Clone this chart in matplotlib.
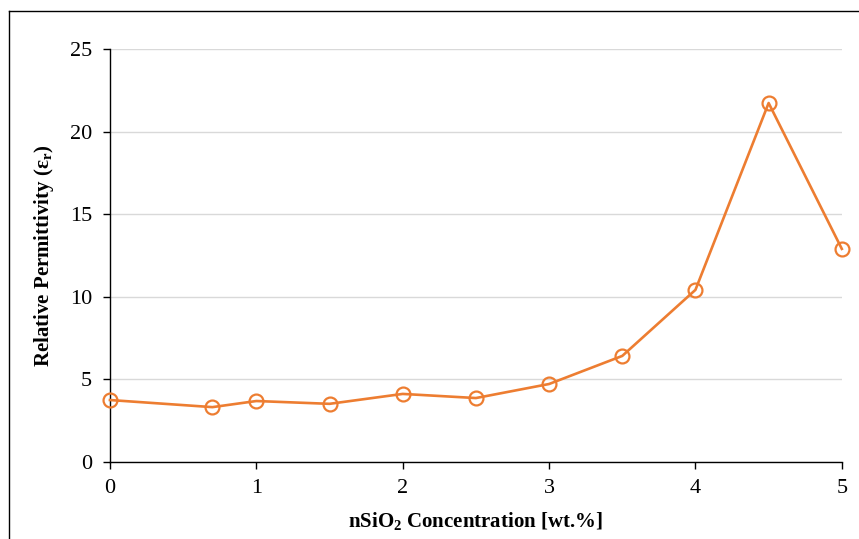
import matplotlib
matplotlib.use("Agg")
import matplotlib.pyplot as plt
from matplotlib.lines import Line2D

# data
concentration = [0, 0.7, 1, 1.5, 2, 2.5, 3, 3.5, 4, 4.5, 5]
permittivity = [3.75, 3.32, 3.69, 3.52, 4.12, 3.87, 4.72, 6.42, 10.42, 21.73, 12.9]
x_ticks = [0, 1, 2, 3, 4, 5]
y_ticks = [0, 5, 10, 15, 20, 25]

plt.rcParams["font.family"] = ["Liberation Serif", "DejaVu Serif"]
plt.rcParams["mathtext.fontset"] = "custom"
plt.rcParams["mathtext.rm"] = "Liberation Serif"
plt.rcParams["mathtext.bf"] = "Liberation Serif:bold"
plt.rcParams["mathtext.default"] = "bf"

orange = "#ED7D31"

fig = plt.figure(figsize=(8.59, 5.39), dpi=100)
ax = fig.add_axes([0.128, 0.1429, 0.852, 0.7662])

ax.plot(concentration, permittivity, color=orange, linewidth=1.9,
        marker="o", markersize=10, markerfacecolor="none",
        markeredgecolor=orange, markeredgewidth=1.6, clip_on=False, zorder=3)

ax.set_xlim(0, 5)
ax.set_ylim(0, 25)
ax.set_xticks(x_ticks)
ax.set_yticks(y_ticks)
ax.grid(axis="y", color="#d9d9d9", linewidth=1.0, zorder=0)
ax.set_axisbelow(True)

for side in ["top", "right"]:
    ax.spines[side].set_visible(False)
for side in ["left", "bottom"]:
    ax.spines[side].set_color("black")
    ax.spines[side].set_linewidth(1.0)

ax.tick_params(axis="both", direction="out", length=5, width=1.0,
               labelsize=16, colors="black")
ax.tick_params(axis="x", pad=7)
ax.tick_params(axis="y", pad=8)

ax.set_xlabel(r"nSiO$_2$ Concentration [wt.%]", fontsize=15,
              fontweight="bold", labelpad=9)
ax.set_ylabel(r"Relative Permittivity (ε$_r$)", fontsize=15,
              fontweight="bold", labelpad=10)

# outer frame of the original figure (partly cut off)
fig.add_artist(Line2D([9 / 859, 9 / 859], [0, 1 - 11 / 539],
                      transform=fig.transFigure, color="black", linewidth=1.0))
fig.add_artist(Line2D([9 / 859, 1], [1 - 11 / 539, 1 - 11 / 539],
                      transform=fig.transFigure, color="black", linewidth=1.0))

fig.savefig("out.png", dpi=100)
